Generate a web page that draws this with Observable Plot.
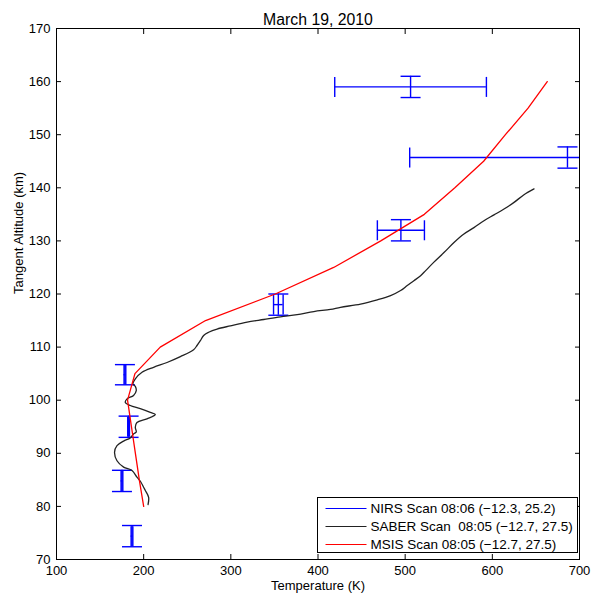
<!DOCTYPE html>
<html><head><meta charset="utf-8">
<script src="https://cdn.jsdelivr.net/npm/d3@7"></script>
<script src="https://cdn.jsdelivr.net/npm/@observablehq/plot@0.6"></script>
<style>html,body{margin:0;padding:0;background:#fff;}</style>
</head><body><div id="chart"></div>
<script>
const titleText = "March 19, 2010";
const xLabel = "Temperature (K)";
const yLabel = "Tangent Altitude (km)";
const xTicks = [100, 200, 300, 400, 500, 600, 700];
const yTicks = [70, 80, 90, 100, 110, 120, 130, 140, 150, 160, 170];

// NIRS retrievals with error bars
const nirsT    = [186.6, 175.1, 182.7, 178.5, 354.5, 495.1, 686.2, 506.2];
const nirsAlt  = [74.4, 84.8, 95.0, 104.8, 118.0, 132.0, 145.7, 159.0];
const nirsTErr = [1, 1, 1, 1, 5.5, 27, 181, 87];
const nirsAltErr = [2, 2, 2, 1.9, 2, 2, 2, 2];

// SABER profile
const saberT = [205.0, 205.7, 201.9, 199.9, 196.9, 192.3, 186.6, 177.0, 169.4, 166.6, 169.4, 177.0, 184.6, 188.4, 191.5, 190.4, 192.3, 203.8, 213.4, 207.6, 196.1, 184.6, 178.9, 180.9, 188.4, 191.5, 190.4, 187.7, 190.4, 198.1, 211.4, 226.8, 242.1, 257.3, 261.2, 265.0, 268.8, 274.6, 284.2, 299.5, 318.7, 337.7, 356.9, 376.1, 395.2, 414.3, 425.8, 448.8, 468.0, 483.3, 494.8, 502.4, 510.0, 517.7, 523.5, 533.0, 544.5, 556.0, 567.4, 578.9, 590.4, 601.9, 613.4, 624.9, 636.3, 647.8];
const saberAlt = [80.35, 81.7, 83.0, 83.6, 84.55, 85.5, 86.75, 87.4, 88.6, 90.2, 91.45, 92.3, 92.9, 93.65, 94.0, 94.9, 95.8, 96.5, 97.3, 97.7, 98.4, 99.0, 99.6, 100.25, 100.9, 101.8, 102.6, 103.1, 104.0, 105.25, 106.2, 107.1, 108.2, 109.5, 110.3, 111.2, 112.2, 112.8, 113.4, 114.0, 114.7, 115.2, 115.7, 116.1, 116.7, 117.1, 117.5, 118.1, 118.9, 119.7, 120.65, 121.6, 122.5, 123.45, 124.4, 126.0, 127.8, 129.7, 131.3, 132.5, 133.8, 134.9, 136.0, 137.25, 138.7, 139.8];

// MSIS profile
const msisT   = [200, 195, 190.5, 186, 181.5, 190, 219, 271, 351, 418, 472, 522, 557, 590, 615, 641, 663];
const msisAlt = [80, 85, 90, 95, 100, 105, 110, 115, 120, 125, 130, 135, 140, 145, 150, 155, 160];

const legendLabels = ["NIRS Scan 08:06 (\u221212.3, 25.2)", "SABER Scan  08:05 (\u221212.7, 27.5)", "MSIS Scan 08:05 (\u221212.7, 27.5)"];
const legendColors = ["#0000ff", "#222222", "#ff0000"];

const nirs = nirsT.map((t, i) => ({t, alt: nirsAlt[i], te: nirsTErr[i], ae: nirsAltErr[i]}));
const saber = saberT.map((t, i) => ({t, alt: saberAlt[i]}));
const msis = msisT.map((t, i) => ({t, alt: msisAlt[i]}));

const hCap = {draw(c, s) { const h = Math.sqrt(s / Math.PI); c.moveTo(-h, 0); c.lineTo(h, 0); }};
const vCap = {draw(c, s) { const h = Math.sqrt(s / Math.PI); c.moveTo(0, -h); c.lineTo(0, h); }};

const FONT = "'Liberation Sans', Arial, Helvetica, sans-serif";
const blue = legendColors[0], black = legendColors[1], red = legendColors[2];
const bw = 1.4;

const plot = Plot.plot({
  width: 591, height: 598,
  marginLeft: 56, marginRight: 12, marginTop: 28, marginBottom: 39,
  style: {fontFamily: FONT, fontSize: "13px", background: "#fff", color: "#000", overflow: "visible"},
  x: {domain: [100, 700], label: null},
  y: {domain: [70, 170], label: null},
  marks: [
    // NIRS error bars
    Plot.ruleY(nirs, {y: "alt", x1: d => d.t - d.te, x2: d => d.t + d.te, stroke: blue, strokeWidth: bw, clip: true}),
    Plot.ruleX(nirs, {x: "t", y1: d => d.alt - d.ae, y2: d => d.alt + d.ae, stroke: blue, strokeWidth: bw, clip: true}),
    Plot.dot(nirs, {x: "t", y: d => d.alt - d.ae, symbol: hCap, r: 10, fill: "none", stroke: blue, strokeWidth: bw, clip: true}),
    Plot.dot(nirs, {x: "t", y: d => d.alt + d.ae, symbol: hCap, r: 10, fill: "none", stroke: blue, strokeWidth: bw, clip: true}),
    Plot.dot(nirs, {x: d => d.t - d.te, y: "alt", symbol: vCap, r: 10, fill: "none", stroke: blue, strokeWidth: bw, clip: true}),
    Plot.dot(nirs, {x: d => d.t + d.te, y: "alt", symbol: vCap, r: 10, fill: "none", stroke: blue, strokeWidth: bw, clip: true}),
    // SABER
    Plot.line(saber, {x: "t", y: "alt", stroke: black, strokeWidth: 1.3, curve: "catmull-rom"}),
    // MSIS
    Plot.line(msis, {x: "t", y: "alt", stroke: red, strokeWidth: 1.3}),
    // frame and axes
    Plot.frame({stroke: "#000", strokeWidth: 1}),
    Plot.axisX(xTicks, {anchor: "bottom", tickSize: 0, tickPadding: 6, label: null, fontSize: 13}),
    Plot.axisY(yTicks, {anchor: "left", tickSize: 0, tickPadding: 6, label: null, fontSize: 13}),
    Plot.axisX(xTicks, {anchor: "bottom", tickSize: -5, tickFormat: () => "", label: null}),
    Plot.axisX(xTicks, {anchor: "top", tickSize: -5, tickFormat: () => "", label: null}),
    Plot.axisY(yTicks, {anchor: "left", tickSize: -5, tickFormat: () => "", label: null}),
    Plot.axisY(yTicks, {anchor: "right", tickSize: -5, tickFormat: () => "", label: null}),
    // texts
    Plot.text([titleText], {text: d => d, frameAnchor: "top", dy: -15, fontSize: 15.8}),
    Plot.text([xLabel], {text: d => d, frameAnchor: "bottom", dy: 30, fontSize: 13}),
    Plot.text([yLabel], {text: d => d, frameAnchor: "left", dx: -38, rotate: -90, fontSize: 13})
  ]
});
document.getElementById("chart").appendChild(plot);

// legend box (bottom-right, inside the axes)
const svg = d3.select(plot);
const lg = svg.append("g").attr("font-family", FONT).attr("font-size", 13.5).attr("text-anchor", "start");
const bx = 317.5, by = 497.5, bwid = 260, bh = 55;
lg.append("rect").attr("x", bx).attr("y", by).attr("width", bwid).attr("height", bh)
  .attr("fill", "#fff").attr("stroke", "#000").attr("stroke-width", 1);
legendLabels.forEach((lab, i) => {
  const yy = by + 11 + i * 18;
  lg.append("line").attr("x1", bx + 8).attr("x2", bx + 49).attr("y1", yy).attr("y2", yy)
    .attr("stroke", legendColors[i]).attr("stroke-width", 1);
  lg.append("text").attr("x", bx + 53).attr("y", yy + 4.5).attr("fill", "#000")
    .attr("text-anchor", "start").style("white-space", "pre").text(lab);
});
</script>
</body></html>
